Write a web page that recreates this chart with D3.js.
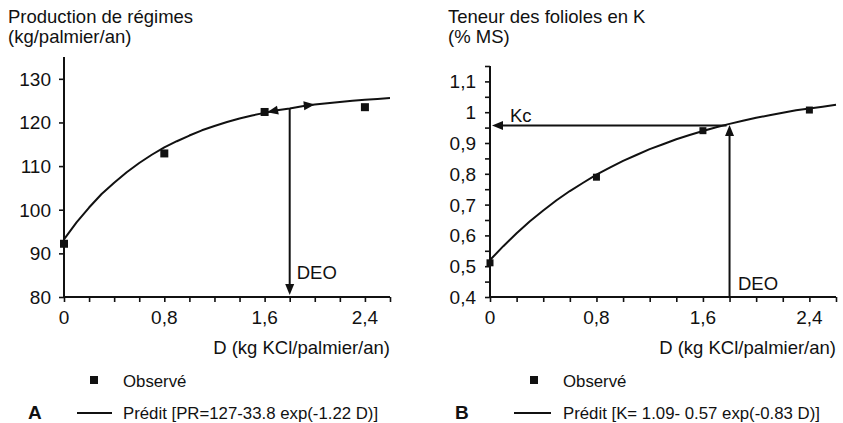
<!DOCTYPE html>
<html><head><meta charset="utf-8">
<script src="https://cdn.jsdelivr.net/npm/d3@7"></script>
<style>
html,body{margin:0;padding:0;background:#fff;}
svg text{font-family:"Liberation Sans",Arial,Helvetica,sans-serif;fill:#111;}
</style></head>
<body>
<script>
// ---- Data ----
const curveD = [0,0.1,0.2,0.3,0.4,0.5,0.6,0.7,0.8,0.9,1.0,1.1,1.2,1.3,1.4,1.5,1.6,1.7,1.8,1.9,2.0,2.1,2.2,2.3,2.4,2.5,2.6];
// Panel A : production de régimes (kg/palmier/an)
const predPR = [93.2,97.1,100.5,103.6,106.2,108.6,110.7,112.6,114.3,115.7,117.0,118.2,119.2,120.1,120.9,121.6,122.2,122.8,123.2,123.7,124.1,124.4,124.7,125.0,125.2,125.4,125.6];
const obsD = [0,0.8,1.6,2.4];
const obsPR = [92.2,112.9,122.4,123.5];
// Panel B : teneur des folioles en K (% MS)
const predK = [0.52,0.565,0.607,0.646,0.681,0.714,0.744,0.771,0.797,0.820,0.842,0.861,0.880,0.896,0.912,0.926,0.939,0.951,0.962,0.972,0.982,0.990,0.998,1.006,1.012,1.018,1.024];
const obsK = [0.511,0.789,0.94,1.007];
// Optimum economic dose and critical content
const DEO = 1.8;
const Kc = 0.957;
const arrowAlongD = [1.62, 2.0];   // arrow heads drawn on curve A
const xTickMajor = [0,0.8,1.6,2.4];
const xTickLabels = ["0","0,8","1,6","2,4"];
const xTickMinor = [0,0.2,0.4,0.6,0.8,1.0,1.2,1.4,1.6,1.8,2.0,2.2,2.4,2.6];
const yTicksA = [80,90,100,110,120,130];
const yTickLabelsA = ["80","90","100","110","120","130"];
const yTicksB = [0.4,0.5,0.6,0.7,0.8,0.9,1.0,1.1];
const yTickLabelsB = ["0,4","0,5","0,6","0,7","0,8","0,9","1","1,1"];
const yTicksBMinor = [0.4,0.45,0.5,0.55,0.6,0.65,0.7,0.75,0.8,0.85,0.9,0.95,1.0,1.05,1.1,1.15];
const titlesA = ["Production de régimes","(kg/palmier/an)"];
const titlesB = ["Teneur des folioles en K","(% MS)"];
const xLabel = "D (kg KCl/palmier/an)";
const legendObs = "Observé";
const legendPredA = "Prédit [PR=127-33.8 exp(-1.22 D)]";
const legendPredB = "Prédit [K= 1.09- 0.57 exp(-0.83 D)]";

const W=843,H=423, FS=18.5, FT=19, FL=16.8;
const svg = d3.select("body").append("svg").attr("width",W).attr("height",H);

function arrowHead(g, tip, angle, len=11, half=4.5){
  const bx = tip[0]-len*Math.cos(angle), by = tip[1]-len*Math.sin(angle);
  const px = -Math.sin(angle)*half, py = Math.cos(angle)*half;
  g.append("path").attr("d",`M${tip[0]},${tip[1]}L${bx+px},${by+py}L${bx-px},${by-py}Z`).attr("fill","#111");
}

function panel(opt){
  const g = svg.append("g");
  const x = d3.scaleLinear().domain([0,2.6]).range(opt.xr);
  const y = d3.scaleLinear().domain(opt.yd).range(opt.yr);
  const x0 = x(0), yb = y(opt.yd[0]);
  opt.titles.forEach((t,i)=>g.append("text").attr("x",opt.tx).attr("y",23+19.5*i).attr("font-size",FS).text(t));
  const xa = g.append("g").attr("transform",`translate(0,${yb})`)
    .call(d3.axisBottom(x).tickValues(xTickMinor).tickSize(5).tickFormat(""));
  xa.select(".domain").attr("stroke","#111").attr("stroke-width",2).attr("d",`M${x(0)},0H${x(2.6)}`);
  xa.selectAll(".tick line").attr("stroke","#111").attr("stroke-width",1.6);
  g.selectAll(".xl").data(xTickMajor).enter().append("text")
    .attr("x",d=>x(d)).attr("y",324).attr("text-anchor","middle").attr("font-size",FT)
    .text((d,i)=>xTickLabels[i]);
  const ya = g.append("g").attr("transform",`translate(${x0},0)`)
    .call(d3.axisLeft(y).tickValues(opt.yMinor).tickSize(5).tickFormat(""));
  ya.select(".domain").attr("stroke","#111").attr("stroke-width",2).attr("d",`M0,${y(opt.yd[1])}V${yb}`);
  ya.selectAll(".tick line").attr("stroke","#111").attr("stroke-width",1.6);
  g.selectAll(".yl").data(opt.yTicks).enter().append("text")
    .attr("x",x0-opt.lblGap).attr("y",d=>y(d)+7).attr("text-anchor","end").attr("font-size",FT)
    .text((d,i)=>opt.yLabels[i]);
  g.append("text").attr("x",opt.xr[1]).attr("y",354).attr("text-anchor","end").attr("font-size",FS).text(xLabel);
  const line = d3.line().x((d,i)=>x(curveD[i])).y(d=>y(d));
  g.append("path").datum(opt.pred).attr("d",line).attr("fill","none").attr("stroke","#111").attr("stroke-width",2).attr("stroke-linejoin","round");
  const s = opt.sq;
  g.selectAll(".obs").data(opt.obs).enter().append("rect")
    .attr("x",(d,i)=>x(obsD[i])-s/2).attr("y",d=>y(d)-s/2).attr("width",s).attr("height",s).attr("fill","#111");
  g.append("rect").attr("x",opt.lgSq-4).attr("y",376).attr("width",8).attr("height",8).attr("fill","#111");
  g.append("text").attr("x",opt.lgTx).attr("y",387).attr("font-size",FL).text(legendObs);
  g.append("text").attr("x",opt.lgLetterX).attr("y",419).attr("font-size",19).attr("font-weight","bold").text(opt.letter);
  g.append("line").attr("x1",opt.lgLine[0]).attr("x2",opt.lgLine[1]).attr("y1",413).attr("y2",413).attr("stroke","#111").attr("stroke-width",2);
  g.append("text").attr("x",opt.lgTx).attr("y",419).attr("font-size",FL).text(opt.legendPred);
  return {g,x,y};
}

function interp(arr, D){ return d3.scaleLinear().domain(curveD).range(arr)(D); }

const A = panel({xr:[64,390], yd:[80,135], yr:[297,57], titles:titlesA, tx:8,
  yTicks:yTicksA, yLabels:yTickLabelsA, yMinor:yTicksA, lblGap:13, pred:predPR, obs:obsPR, sq:8,
  lgSq:94, lgTx:123, lgLetterX:28, lgLine:[77,112], letter:"A", legendPred:legendPredA});
{
  const {g,x,y} = A;
  const yTop = y(interp(predPR,DEO)), yBot = y(80);
  g.append("line").attr("x1",x(DEO)).attr("x2",x(DEO)).attr("y1",yTop).attr("y2",yBot-9).attr("stroke","#111").attr("stroke-width",2);
  arrowHead(g,[x(DEO),yBot-2],Math.PI/2);
  g.append("text").attr("x",x(DEO)+7).attr("y",279).attr("font-size",FS).text("DEO");
  arrowAlongD.forEach((D,i)=>{
    const p=[x(D),y(interp(predPR,D))];
    const q=[x(D+0.05),y(interp(predPR,D+0.05))];
    let ang=Math.atan2(q[1]-p[1],q[0]-p[0]);
    if(i===0) ang+=Math.PI;
    arrowHead(g,p,ang);
  });
}

const B = panel({xr:[490,836], yd:[0.4,1.15], yr:[297,66], titles:titlesB, tx:448,
  yTicks:yTicksB, yLabels:yTickLabelsB, yMinor:yTicksBMinor, lblGap:14, pred:predK, obs:obsK, sq:7,
  lgSq:534, lgTx:563, lgLetterX:455, lgLine:[514,551], letter:"B", legendPred:legendPredB});
{
  const {g,x,y} = B;
  const yK = y(Kc);
  g.append("line").attr("x1",x(DEO)-3).attr("x2",x(0)+10).attr("y1",yK).attr("y2",yK).attr("stroke","#111").attr("stroke-width",2);
  arrowHead(g,[x(0)+2,yK],Math.PI);
  const yc = y(interp(predK,DEO));
  g.append("line").attr("x1",x(DEO)).attr("x2",x(DEO)).attr("y1",y(0.4)).attr("y2",yc+9).attr("stroke","#111").attr("stroke-width",2);
  arrowHead(g,[x(DEO),yc+1],-Math.PI/2);
  g.append("text").attr("x",738).attr("y",290).attr("font-size",FS).text("DEO");
  g.append("text").attr("x",510).attr("y",122).attr("font-size",FS).text("Kc");
}
</script>
</body></html>
